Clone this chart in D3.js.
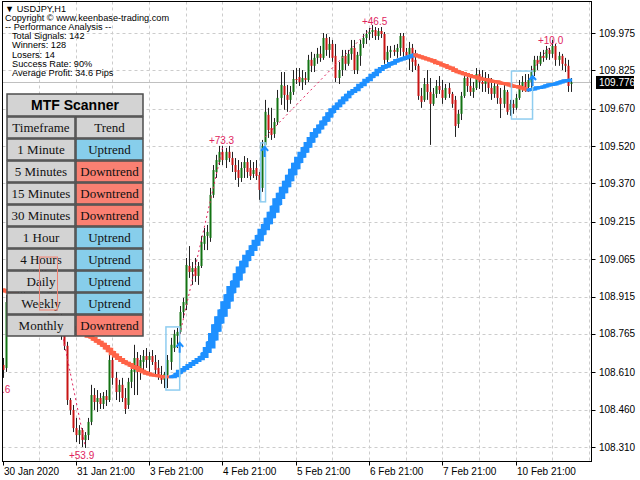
<!DOCTYPE html>
<html><head><meta charset="utf-8">
<script src="https://cdn.jsdelivr.net/npm/d3@7"></script>
<style>body{margin:0;background:#fff}svg{display:block}</style>
</head><body><svg id="c" width="640" height="480"></svg>
<script>
// ---------- DATA (USDJPY H1, bar index 0 = 30 Jan 2020 21:00) ----------
const opens = [
108.640,108.628,108.893,108.918,108.901,108.934,108.958,108.942,108.982,108.966,
108.998,109.014,108.998,109.046,109.022,108.974,108.918,108.885,108.853,108.821,
108.761,108.717,108.499,108.459,108.386,108.358,108.378,108.338,108.358,108.411,
108.519,108.491,108.507,108.483,108.515,108.499,108.660,108.588,108.531,108.560,
108.507,108.479,108.572,108.612,108.668,108.612,108.652,108.676,108.660,108.676,
108.652,108.628,108.596,108.580,108.600,108.652,108.708,108.757,108.773,108.853,
108.881,109.038,109.014,109.030,108.998,109.038,109.127,109.159,109.151,109.324,
109.416,109.456,109.497,109.464,109.497,109.472,109.444,109.424,109.392,109.432,
109.456,109.432,109.408,109.432,109.404,109.352,109.525,109.646,109.593,109.569,
109.617,109.714,109.762,109.726,109.706,109.738,109.790,109.798,109.778,109.794,
109.786,109.867,109.843,109.875,109.891,109.875,109.955,109.907,109.931,109.883,
109.794,109.826,109.883,109.851,109.891,109.915,109.826,109.883,109.931,109.955,
109.971,109.979,109.987,109.963,109.983,109.971,109.867,109.899,109.907,109.899,
109.915,109.963,109.899,109.887,109.915,109.867,109.843,109.722,109.706,109.770,
109.738,109.690,109.730,109.762,109.746,109.714,109.754,109.730,109.706,109.609,
109.650,109.722,109.794,109.762,109.738,109.754,109.810,109.778,109.770,109.786,
109.754,109.730,109.762,109.714,109.690,109.738,109.666,109.690,109.674,109.714,
109.762,109.778,109.758,109.778,109.818,109.867,109.851,109.883,109.875,109.907,
109.891,109.923,109.867,109.883,109.851,109.843,109.770];
const highs = [
108.668,108.922,108.942,108.962,108.950,108.982,108.990,109.002,109.022,109.014,
109.030,109.054,109.070,109.074,109.054,108.998,108.950,108.918,108.881,108.853,
108.781,108.733,108.507,108.479,108.427,108.398,108.386,108.370,108.427,108.560,
108.547,108.539,108.527,108.531,108.539,108.680,108.692,108.612,108.580,108.588,
108.547,108.588,108.640,108.721,108.692,108.680,108.700,108.708,108.692,108.700,
108.680,108.660,108.636,108.612,108.680,108.749,108.781,108.789,108.877,108.910,
109.070,109.118,109.054,109.070,109.054,109.159,109.191,109.203,109.352,109.444,
109.485,109.521,109.521,109.513,109.521,109.497,109.472,109.464,109.456,109.480,
109.472,109.464,109.456,109.464,109.416,109.545,109.706,109.674,109.674,109.633,
109.746,109.818,109.818,109.766,109.762,109.826,109.834,109.834,109.826,109.818,
109.887,109.899,109.891,109.915,109.923,109.975,109.971,109.959,109.947,109.931,
109.859,109.907,109.907,109.907,109.947,109.947,109.899,109.947,109.971,109.987,
109.995,110.007,109.999,109.995,109.999,109.979,109.923,109.923,109.927,109.931,
109.975,109.975,109.915,109.939,109.931,109.907,109.851,109.754,109.794,109.826,
109.794,109.754,109.786,109.802,109.786,109.770,109.774,109.738,109.722,109.666,
109.738,109.818,109.810,109.794,109.778,109.834,109.826,109.826,109.818,109.810,
109.794,109.786,109.770,109.754,109.778,109.746,109.706,109.706,109.730,109.786,
109.802,109.810,109.810,109.843,109.883,109.883,109.899,109.907,109.923,109.915,
109.947,109.931,109.899,109.891,109.875,109.867,109.794];
const lows = [
108.588,108.612,108.861,108.881,108.877,108.910,108.918,108.926,108.950,108.942,
108.974,108.982,108.974,108.998,108.958,108.901,108.861,108.829,108.801,108.741,
108.700,108.479,108.439,108.370,108.330,108.322,108.310,108.306,108.338,108.398,
108.459,108.451,108.463,108.463,108.475,108.491,108.560,108.499,108.491,108.491,
108.443,108.463,108.547,108.519,108.519,108.580,108.612,108.628,108.612,108.640,
108.600,108.580,108.564,108.547,108.547,108.620,108.692,108.708,108.765,108.829,
108.861,108.990,108.962,108.974,108.962,109.030,109.102,109.102,109.135,109.312,
109.392,109.444,109.444,109.432,109.456,109.416,109.384,109.356,109.376,109.392,
109.392,109.384,109.392,109.384,109.304,109.336,109.505,109.553,109.545,109.553,
109.605,109.686,109.666,109.658,109.690,109.726,109.770,109.762,109.746,109.766,
109.778,109.818,109.818,109.851,109.859,109.867,109.883,109.875,109.859,109.778,
109.770,109.802,109.826,109.843,109.867,109.810,109.810,109.843,109.915,109.931,
109.947,109.955,109.947,109.947,109.955,109.851,109.834,109.875,109.883,109.875,
109.883,109.875,109.867,109.826,109.818,109.826,109.706,109.674,109.698,109.706,
109.525,109.682,109.714,109.730,109.690,109.706,109.714,109.674,109.557,109.593,
109.625,109.714,109.738,109.722,109.714,109.746,109.750,109.738,109.738,109.730,
109.706,109.714,109.690,109.633,109.674,109.646,109.642,109.650,109.666,109.706,
109.738,109.738,109.738,109.754,109.802,109.826,109.843,109.859,109.867,109.867,
109.875,109.843,109.843,109.826,109.818,109.738,109.738];
const closes = [
108.620,108.893,108.918,108.901,108.934,108.958,108.942,108.982,108.966,108.998,
109.014,108.998,109.046,109.022,108.974,108.918,108.885,108.853,108.821,108.761,
108.717,108.499,108.459,108.386,108.358,108.378,108.338,108.358,108.411,108.519,
108.491,108.507,108.483,108.515,108.499,108.660,108.588,108.531,108.560,108.507,
108.463,108.572,108.620,108.668,108.612,108.660,108.676,108.660,108.676,108.652,
108.620,108.596,108.580,108.604,108.660,108.721,108.765,108.773,108.853,108.893,
109.042,109.014,109.030,108.998,109.038,109.135,109.159,109.175,109.324,109.424,
109.464,109.497,109.464,109.497,109.472,109.444,109.416,109.392,109.432,109.456,
109.416,109.400,109.424,109.400,109.344,109.521,109.658,109.585,109.565,109.617,
109.714,109.766,109.726,109.706,109.738,109.790,109.786,109.778,109.794,109.786,
109.867,109.843,109.875,109.891,109.875,109.955,109.907,109.931,109.875,109.794,
109.826,109.883,109.851,109.891,109.915,109.826,109.887,109.931,109.955,109.971,
109.979,109.987,109.963,109.983,109.971,109.867,109.899,109.907,109.899,109.915,
109.963,109.899,109.883,109.915,109.859,109.843,109.722,109.698,109.770,109.738,
109.690,109.730,109.762,109.746,109.714,109.754,109.730,109.690,109.601,109.650,
109.722,109.794,109.762,109.738,109.754,109.810,109.778,109.770,109.786,109.754,
109.730,109.762,109.714,109.690,109.746,109.658,109.690,109.674,109.714,109.762,
109.778,109.758,109.786,109.818,109.867,109.851,109.883,109.875,109.907,109.891,
109.923,109.867,109.883,109.851,109.843,109.762,109.776];
// trend line indicator (blue = rising, orange = falling)
const trendLine = [
108.942,108.938,108.934,108.930,108.926,108.918,108.914,108.906,108.901,108.893,
108.889,108.881,108.877,108.869,108.861,108.853,108.845,108.837,108.829,108.821,
108.813,108.805,108.797,108.789,108.781,108.777,108.769,108.765,108.757,108.753,
108.745,108.737,108.729,108.721,108.711,108.700,108.688,108.678,108.668,108.660,
108.652,108.646,108.640,108.632,108.628,108.620,108.614,108.608,108.604,108.600,
108.598,108.596,108.594,108.592,108.592,108.592,108.594,108.600,108.612,108.620,
108.628,108.636,108.644,108.652,108.660,108.668,108.680,108.700,108.721,108.753,
108.789,108.821,108.849,108.881,108.910,108.942,108.966,108.994,109.022,109.046,
109.070,109.090,109.110,109.131,109.151,109.175,109.195,109.219,109.243,109.267,
109.296,109.320,109.344,109.368,109.392,109.416,109.440,109.464,109.485,109.505,
109.525,109.545,109.565,109.581,109.597,109.613,109.629,109.646,109.662,109.674,
109.686,109.698,109.710,109.722,109.734,109.742,109.750,109.762,109.770,109.782,
109.790,109.802,109.810,109.822,109.830,109.838,109.843,109.851,109.855,109.863,
109.867,109.871,109.875,109.879,109.883,109.887,109.883,109.879,109.875,109.871,
109.867,109.863,109.857,109.853,109.847,109.843,109.837,109.833,109.826,109.820,
109.816,109.812,109.808,109.804,109.800,109.798,109.794,109.790,109.788,109.786,
109.782,109.780,109.778,109.774,109.772,109.770,109.766,109.762,109.760,109.758,
109.754,109.750,109.746,109.748,109.750,109.754,109.756,109.758,109.762,109.766,
109.768,109.770,109.774,109.778,109.782,109.784,109.786];
const priceTicks = [109.975,109.825,109.670,109.520,109.370,109.215,109.065,108.915,108.765,108.610,108.460,108.310];
const timeLabels = ["30 Jan 2020","31 Jan 21:00","3 Feb 21:00","4 Feb 21:00","5 Feb 21:00","6 Feb 21:00","7 Feb 21:00","10 Feb 21:00"];
const timeLabelBars = [0,24,48,72,96,120,144,168];
const bidPrice = 109.776;
// signal boxes: [fromBar, toBar, high, low]
const buyBoxes = [[53.5,58,108.793,108.539],[84.5,86.1,109.533,109.296],[166.6,173.5,109.822,109.629]];
const sellBoxes = [[12.1,18,109.074,108.861]];
const buyArrows = [[58,108.729],[85.8,109.517],[173.5,109.802]];
// profit lines: [fromBar, fromPrice, toBar, toPrice]
const profitLines = [[18,108.861,27,108.318],[58,108.761,72,109.513],[86,109.557,121,109.999],[173.5,109.826,180,109.935]];
const profitLabels = ["+53.9","+73.3","+46.5","+10.0",".6"];
const profitLabelPos = [[25.9,108.262,"middle"],[71.7,109.529,"middle"],[121.8,110.007,"middle"],[179.4,109.931,"middle"],[2.6,108.527,"end"]];
const infoLines = ["\u25BC USDJPY,H1","Copyright \u00A9 www.keenbase-trading.com","-- Performance Analysis --","Total Signals: 142","Winners: 128","Losers: 14","Success Rate: 90%","Average Profit: 34.6 Pips"];
const tfNames = ["1 Minute","5 Minutes","15 Minutes","30 Minutes","1 Hour","4 Hours","Daily","Weekly","Monthly"];
const tfTrends = ["Uptrend","Downtrend","Downtrend","Downtrend","Uptrend","Uptrend","Uptrend","Uptrend","Downtrend"];

// ---------- DRAW ----------
const svg = d3.select("#c");
const F = {l:2.5, r:591.5, t:1.5, b:461.5};
const x = d3.scaleLinear().domain([0,193]).range([2.5, 2.5+3.055*193]);
const y = d3.scaleLinear().domain([108.310,109.975]).range([447,33]);
const sans = "'Liberation Sans', Arial, sans-serif";
svg.append("rect").attr("width",640).attr("height",480).attr("fill","#fff");
svg.append("clipPath").attr("id","pc").append("rect").attr("x",F.l).attr("y",F.t).attr("width",F.r-F.l).attr("height",F.b-F.t);
const plot = svg.append("g").attr("clip-path","url(#pc)");

// grid
const gridBars = d3.range(12,193,12);
plot.selectAll(".vg").data(gridBars).join("line")
  .attr("x1",d=>Math.round(x(d))+0.5).attr("x2",d=>Math.round(x(d))+0.5).attr("y1",F.t).attr("y2",F.b)
  .attr("stroke","#cccccc").attr("stroke-dasharray","3,3");
plot.selectAll(".hg").data(priceTicks).join("line")
  .attr("x1",F.l).attr("x2",F.r).attr("y1",d=>Math.round(y(d))+0.5).attr("y2",d=>Math.round(y(d))+0.5)
  .attr("stroke","#cccccc").attr("stroke-dasharray","3,3");
// bid line
plot.append("line").attr("x1",F.l).attr("x2",F.r).attr("y1",Math.round(y(bidPrice))+0.5).attr("y2",Math.round(y(bidPrice))+0.5)
  .attr("stroke","#c0c0c0");

// candles
const idx = d3.range(closes.length);
const cg = plot.append("g");
cg.selectAll("line").data(idx).join("line")
  .attr("x1",i=>Math.round(x(i))+0.5).attr("x2",i=>Math.round(x(i))+0.5)
  .attr("y1",i=>y(highs[i])).attr("y2",i=>y(lows[i]))
  .attr("stroke","#222").attr("stroke-width",1);
cg.selectAll("rect").data(idx).join("rect")
  .attr("x",i=>Math.round(x(i))-0.5).attr("width",2)
  .attr("y",i=>y(Math.max(opens[i],closes[i])))
  .attr("height",i=>Math.max(1,Math.abs(y(opens[i])-y(closes[i]))))
  .attr("fill",i=>closes[i]>=opens[i]?"#137313":"#c81414");

// trend line
let prevCol = "#ff6347";
for(let i=0;i<trendLine.length-1;i++){
  const d = trendLine[i+1]-trendLine[i];
  const col = d>0?"#1e90ff":(d<0?"#ff6347":prevCol);
  prevCol = col;
  const y0=y(trendLine[i]), y1=y(trendLine[i+1]);
  const xm=(x(i)+x(i+1))/2;
  const w=Math.min(7.5,2.6+Math.abs(y1-y0)*0.65);
  plot.append("path").attr("d",`M${x(i)},${y0}H${xm}V${y1}H${x(i+1)}`)
    .attr("fill","none").attr("stroke",col).attr("stroke-width",w).attr("stroke-linecap","square");
}

// profit lines
plot.selectAll(".pl").data(profitLines).join("line")
  .attr("x1",d=>x(d[0])).attr("y1",d=>y(d[1])).attr("x2",d=>x(d[2])).attr("y2",d=>y(d[3]))
  .attr("stroke","#e0245e").attr("stroke-dasharray","2,3").attr("stroke-width",1);
// buy boxes
plot.selectAll(".bb").data(buyBoxes).join("rect")
  .attr("x",d=>x(d[0])).attr("y",d=>y(d[2])).attr("width",d=>x(d[1])-x(d[0])).attr("height",d=>y(d[3])-y(d[2]))
  .attr("fill","none").attr("stroke","#8fcdf0").attr("stroke-width",1.5);
// arrows
plot.selectAll(".ar").data(buyArrows).join("path")
  .attr("d",d=>{const ax=x(d[0]),ay=y(d[1]);return `M${ax-3.5},${ay+4}L${ax},${ay}L${ax+3.5},${ay+4}M${ax},${ay}V${ay+10}`;})
  .attr("fill","none").attr("stroke","#1e90ff").attr("stroke-width",2);
// profit labels
plot.selectAll(".lb").data(profitLabels).join("text")
  .attr("x",(d,i)=>x(profitLabelPos[i][0])).attr("y",(d,i)=>y(profitLabelPos[i][1]))
  .attr("text-anchor",(d,i)=>profitLabelPos[i][2])
  .attr("font-family",sans).attr("font-size",10).attr("fill","#e0245e").text(d=>d);

// frame
svg.append("rect").attr("x",F.l).attr("y",F.t).attr("width",F.r-F.l).attr("height",F.b-F.t)
  .attr("fill","none").attr("stroke","#000");

// price axis
const pa = svg.append("g");
pa.selectAll("line").data(priceTicks).join("line")
  .attr("x1",F.r).attr("x2",F.r+4).attr("y1",d=>Math.round(y(d))+0.5).attr("y2",d=>Math.round(y(d))+0.5).attr("stroke","#000");
pa.selectAll("text").data(priceTicks).join("text")
  .attr("x",599).attr("y",d=>y(d)+3.5).attr("font-family",sans).attr("font-size",10).attr("fill","#000")
  .text(d=>d.toFixed(3));
svg.append("rect").attr("x",596).attr("y",y(bidPrice)-6.5).attr("width",38).attr("height",13).attr("fill","#000");
svg.append("text").attr("x",599).attr("y",y(bidPrice)+3.5).attr("font-family",sans).attr("font-size",10).attr("fill","#fff").text(bidPrice.toFixed(3));

// time axis
const ta = svg.append("g");
ta.selectAll("line").data(timeLabelBars).join("line")
  .attr("x1",d=>Math.round(x(d))+0.5).attr("x2",d=>Math.round(x(d))+0.5).attr("y1",F.b).attr("y2",F.b+4).attr("stroke","#000");
ta.selectAll("text").data(timeLabels).join("text")
  .attr("x",(d,i)=>Math.round(x(timeLabelBars[i]))+1).attr("y",475)
  .attr("font-family",sans).attr("font-size",10).attr("fill","#000").text(d=>d);

// info text
svg.selectAll(".info").data(infoLines).join("text")
  .attr("x",(d,i)=>i<3?5:12).attr("y",(d,i)=>11.5+i*9.2)
  .attr("font-family",sans).attr("font-size",9.2).attr("fill","#000").text(d=>d);

// MTF table
const tb = svg.append("g");
const cellStroke = "#4d4d4d";
tb.append("rect").attr("x",7).attr("y",94).attr("width",136).attr("height",22)
  .attr("fill","#d3d3d3").attr("stroke",cellStroke).attr("stroke-width",1.5);
tb.append("text").attr("x",75).attr("y",110).attr("text-anchor","middle")
  .attr("font-family",sans).attr("font-weight","bold").attr("font-size",14).attr("fill","#000").text("MTF Scanner");
const rows = [["Timeframe","Trend"]].concat(tfNames.map((n,i)=>[n,tfTrends[i]]));
rows.forEach((r,i)=>{
  const ry = 117 + i*22;
  const fillR = i===0?"#d3d3d3":(r[1]==="Uptrend"?"#87ceeb":"#fa8072");
  tb.append("rect").attr("x",7).attr("y",ry).attr("width",68).attr("height",21)
    .attr("fill","#d3d3d3").attr("stroke",cellStroke).attr("stroke-width",1.5);
  tb.append("rect").attr("x",76).attr("y",ry).attr("width",67).attr("height",21)
    .attr("fill",fillR).attr("stroke",cellStroke).attr("stroke-width",1.5);
  tb.append("text").attr("x",41).attr("y",ry+15).attr("text-anchor","middle")
    .attr("font-family","'Liberation Serif','Times New Roman',serif").attr("font-size",13).attr("fill","#111").text(r[0]);
  tb.append("text").attr("x",109.5).attr("y",ry+15).attr("text-anchor","middle")
    .attr("font-family","'Liberation Serif','Times New Roman',serif").attr("font-size",13).attr("fill","#111").text(r[1]);
});
// sell box drawn on top
svg.selectAll(".sb").data(sellBoxes).join("rect")
  .attr("x",d=>x(d[0])).attr("y",d=>y(d[2])).attr("width",d=>x(d[1])-x(d[0])).attr("height",d=>y(d[3])-y(d[2]))
  .attr("fill","none").attr("stroke","#f08070").attr("stroke-width",1);
</script></body></html>
